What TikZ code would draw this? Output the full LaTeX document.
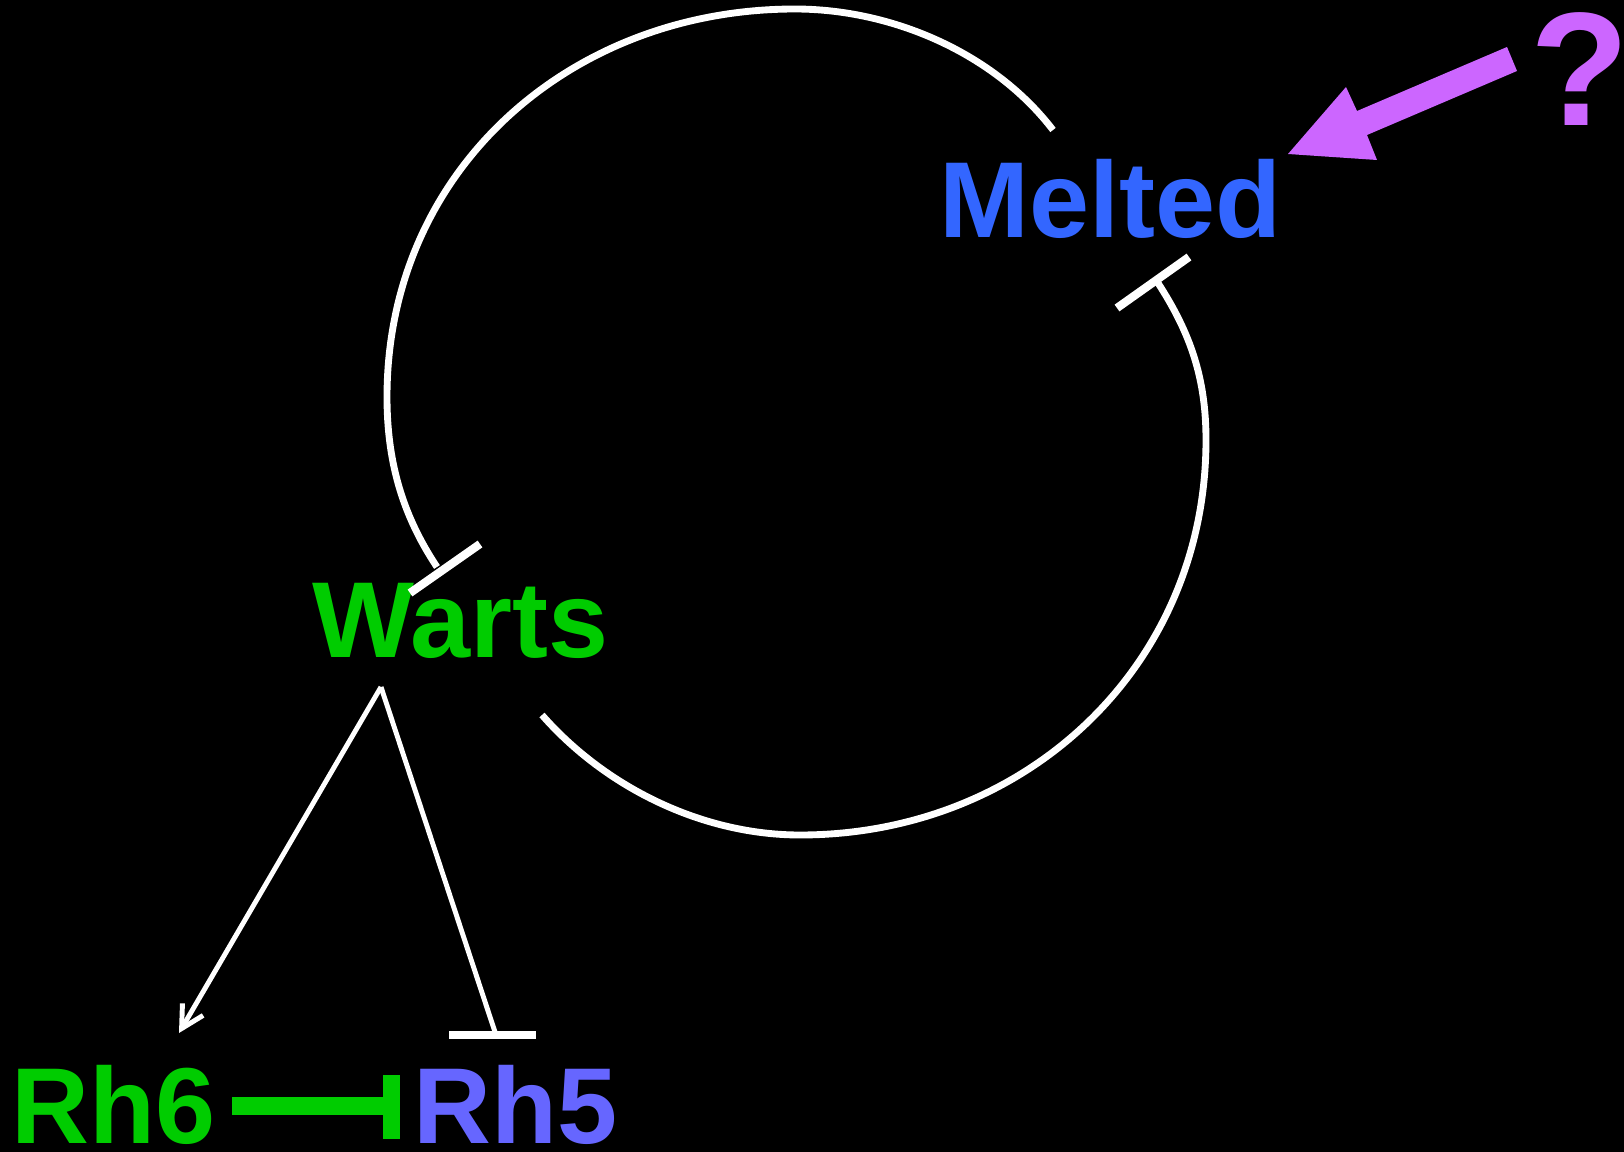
\documentclass[tikz,border=0pt]{standalone}
\usepackage{fontspec}
\setmainfont{Liberation Sans}
\usetikzlibrary{arrows.meta}
\definecolor{meltblue}{HTML}{3366FF}
\definecolor{wgreen}{HTML}{00CC00}
\definecolor{rhblue}{HTML}{6666FF}
\definecolor{qpurple}{HTML}{CC66FF}
\begin{document}
\begin{tikzpicture}[x=0.01cm,y=-0.01cm,
  lbl/.style={anchor=base west, inner sep=0pt, font=\fontsize{30.7pt}{36pt}\selectfont\bfseries},
  arcline/.style={draw=white, line width=1.95pt},
  tbar/.style={draw=white, line width=2.35pt},
  thin/.style={draw=white, line width=1.4pt}]
\fill[black] (0,0) rectangle (1624,1152);
\useasboundingbox (0,0) rectangle (1624,1152);

% labels
\node[lbl, text=meltblue] (melted) at (939,237.2) {Melted};
\node[lbl, text=wgreen] (warts) at (311.5,657.7) {Warts};
\node[lbl, text=wgreen] (rh6) at (10.5,1143) {Rh6};
\node[lbl, text=rhblue] (rh5) at (412.5,1143) {Rh5};
\node[anchor=base west, inner sep=0pt, text=qpurple, font=\fontsize{46pt}{50pt}\selectfont\bfseries] (q) at (1530,125.3) {?};

% anchor coordinates
\coordinate (m-in) at (1053,130);
\coordinate (w-bar) at (437,567);
\coordinate (w-out) at (542,715);
\coordinate (m-bar) at (1158,283);
\coordinate (w-src) at (381,687);
\coordinate (rh6-tip) at (179,1033);
\coordinate (rh5-bar) at (496,1035);

% Melted -| Warts
\draw[arcline] (m-in) .. controls (994,53) and (892,9) .. (795,9)
  .. controls (569,9) and (387,171) .. (387,397)
  .. controls (387,459) and (401,513) .. (w-bar);
\draw[tbar] (410,593) -- (480,544);

% Warts -| Melted
\draw[arcline] (w-out) .. controls (606,788) and (703,835) .. (800,835)
  .. controls (1026,835) and (1206,666) .. (1206,440)
  .. controls (1206,379) and (1191,334) .. (m-bar);
\draw[tbar] (1117,308) -- (1189,257);

% Warts -> Rh6
\draw[thin, -{Straight Barb[length=6.3pt, width=6.8pt, line width=1.4pt]}] (w-src) -- (rh6-tip);
% Warts -| Rh5
\draw[thin] (w-src) -- (rh5-bar);
\draw[tbar] (449,1035) -- (536,1035);

% Rh6 -| Rh5
\draw[wgreen, line width=5.12pt] (232,1106) -- (392,1106);
\draw[wgreen, line width=4.84pt] (391.7,1075) -- (391.7,1139);

% ? arrow
\fill[qpurple] (1288,154) -- (1346,87) -- (1357,111) -- (1507,47) -- (1517,71) -- (1367,135) -- (1377,160) -- cycle;
\end{tikzpicture}
\end{document}
